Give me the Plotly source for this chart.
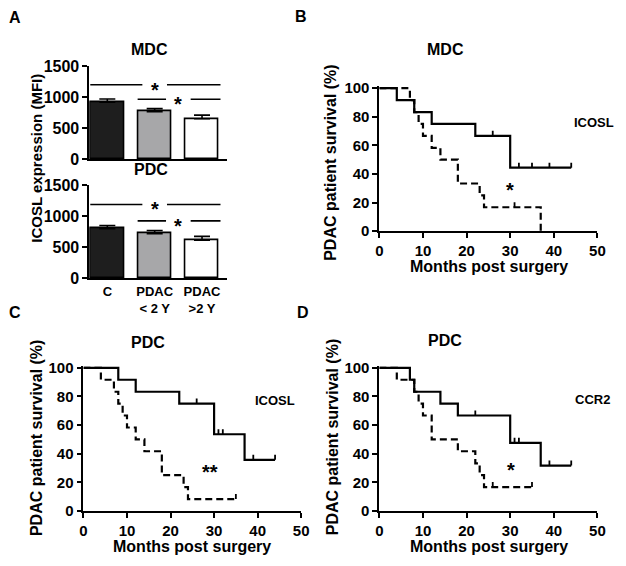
import plotly.graph_objects as go

W, H = 626, 566
FONT = "Liberation Sans, Arial, sans-serif"

# ---------------- Panel A data ----------------
groups = ["C", "PDAC<br>< 2 Y", "PDAC<br>>2 Y"]
mdc_mean = [920, 765, 650]
mdc_sem = [50, 50, 60]
pdc_mean = [800, 720, 615]
pdc_sem = [50, 50, 60]
sig_pairs = [(0, 2), (1, 2)]
sig_mdc = [1200, 965]
sig_pdc = [1190, 925]
sig_text = ["*", "*"]
bar_ticks = [0, 500, 1000, 1500]

# ---------------- Kaplan-Meier data ----------------
# Panel B (MDC, ICOSL)
b_hi_t = [0, 4, 8, 12, 22, 30, 44]
b_hi_s = [100, 91.7, 83.3, 75, 66.7, 44.4, 44.4]
b_hi_ct = [26, 32, 35, 39, 44]
b_hi_cs = [66.7, 44.4, 44.4, 44.4, 44.4]
b_lo_t = [0, 7, 8, 9, 10, 12, 14, 18, 23, 24, 37]
b_lo_s = [100, 91.7, 83.3, 75, 66.7, 58.3, 50, 33.3, 25, 16.7, 0]
b_lo_ct = [31]
b_lo_cs = [16.7]

# Panel C (PDC, ICOSL)
c_hi_t = [0, 8, 12, 22, 30, 37, 44]
c_hi_s = [100, 91.7, 83.3, 75, 53.6, 35.7, 35.7]
c_hi_ct = [26, 31, 32, 39, 44]
c_hi_cs = [75, 53.6, 53.6, 35.7, 35.7]
c_lo_t = [0, 4, 7, 8, 9, 10, 12, 14, 18, 23, 24, 35]
c_lo_s = [100, 91.7, 83.3, 75, 66.7, 58.3, 50, 41.7, 25, 16.7, 8.3, 8.3]
c_lo_ct = [35]
c_lo_cs = [8.3]

# Panel D (PDC, CCR2)
d_hi_t = [0, 7, 8, 14, 18, 30, 37, 44]
d_hi_s = [100, 91.7, 83.3, 75, 66.7, 47.6, 31.7, 31.7]
d_hi_ct = [22, 31, 32, 39, 44]
d_hi_cs = [66.7, 47.6, 47.6, 31.7, 31.7]
d_lo_t = [0, 4, 8, 9, 10, 12, 18, 22, 23, 24, 35]
d_lo_s = [100, 91.7, 83.3, 75, 66.7, 50, 41.7, 33.3, 25, 16.7, 16.7]
d_lo_ct = [26, 35]
d_lo_cs = [16.7, 16.7]

km_panels = [
    dict(ax="3", title="MDC", marker="ICOSL", star="*",
         hi=(b_hi_t, b_hi_s, b_hi_ct, b_hi_cs), lo=(b_lo_t, b_lo_s, b_lo_ct, b_lo_cs),
         label_pos=(49.3, 76), star_pos=(30, 32)),
    dict(ax="4", title="PDC", marker="ICOSL", star="**",
         hi=(c_hi_t, c_hi_s, c_hi_ct, c_hi_cs), lo=(c_lo_t, c_lo_s, c_lo_ct, c_lo_cs),
         label_pos=(43.9, 77.5), star_pos=(29, 31)),
    dict(ax="5", title="PDC", marker="CCR2", star="*",
         hi=(d_hi_t, d_hi_s, d_hi_ct, d_hi_cs), lo=(d_lo_t, d_lo_s, d_lo_ct, d_lo_cs),
         label_pos=(48.9, 78), star_pos=(30.2, 32)),
]
km_xticks = [0, 10, 20, 30, 40, 50]
km_yticks = [0, 20, 40, 60, 80, 100]

# ---------------- styling ----------------
bar_colors = ["#1e1e1e", "#a7a7a9", "#ffffff"]
LW = 1.8


def dx(x0, x1):
    return [x0 / W, x1 / W]


def dy(top, bot):
    return [1 - bot / H, 1 - top / H]


def f(size, weight="bold"):
    return dict(family=FONT, size=size, color="black", weight=weight)


fig = go.Figure()

axis_base = dict(showline=True, linecolor="black", linewidth=LW, ticks="outside",
                 ticklen=5, tickwidth=LW, tickcolor="black", showgrid=False,
                 zeroline=False, tickfont=f(15), fixedrange=True)

annotations = []

# ---------------- Panel A bars ----------------
bar_sets = [("", "", mdc_mean, mdc_sem, sig_mdc, "MDC"), ("2", "2", pdc_mean, pdc_sem, sig_pdc, "PDC")]
for xa, ya, means, sems, sig, ttl in bar_sets:
    fig.add_trace(go.Bar(
        x=list(range(len(groups))), y=means, width=0.7,
        marker=dict(color=bar_colors, line=dict(color="black", width=1.6)),
        error_y=dict(type="data", symmetric=False, array=sems, arrayminus=[0] * len(sems),
                     color="black", thickness=1.6, width=8),
        xaxis="x" + xa, yaxis="y" + ya, showlegend=False))
    for (a, b), lvl, st in zip(sig_pairs, sig, sig_text):
        mid = (a + b) / 2
        start = a - 0.36
        end = b + 0.39
        gap = 0.26
        fig.add_trace(go.Scatter(
            x=[start, mid - gap, None, mid + gap, end], y=[lvl, lvl, None, lvl, lvl],
            mode="lines", line=dict(color="black", width=1.6),
            xaxis="x" + xa, yaxis="y" + ya, showlegend=False, hoverinfo="skip"))
        annotations.append(dict(x=mid, y=lvl, xref="x" + xa, yref="y" + ya, text=st,
                                showarrow=False, font=f(20), yshift=-5))

bar_x = dict(axis_base, range=[-0.38, 2.52], ticks="", tickvals=list(range(len(groups))))
bar_y = dict(axis_base, range=[0, 1500], tickvals=bar_ticks, tickfont=f(16))
fig.update_layout(
    xaxis=dict(bar_x, domain=dx(87, 227), showticklabels=False, anchor="y"),
    yaxis=dict(bar_y, domain=dy(60, 155.7), anchor="x"),
    xaxis2=dict(bar_x, domain=dx(87, 227), ticktext=groups, tickfont=f(13), anchor="y2"),
    yaxis2=dict(bar_y, domain=dy(182.7, 278.7), anchor="x2"),
)

# ---------------- KM panels ----------------
km_domains = {
    "3": (dx(382.7, 605), (82.7, 230)),
    "4": (dx(81, 303), (371, 518.5)),
    "5": (dx(382.7, 605), (371, 518.5)),
}
YTOP = 101.5
for p in km_panels:
    ax = p["ax"]
    xd, (y100, y0) = km_domains[ax]
    top_px = y0 - (YTOP / 100) * (y0 - y100)
    fig.update_layout(**{
        "xaxis" + ax: dict(axis_base, domain=xd, range=[0, 50], tickvals=km_xticks, anchor="y" + ax),
        "yaxis" + ax: dict(axis_base, domain=dy(top_px, y0), range=[0, YTOP], tickvals=km_yticks,
                           anchor="x" + ax),
    })
    for key, dash in (("lo", "7px,4px"), ("hi", "solid")):
        t, s, ct, cs = p[key]
        fig.add_trace(go.Scatter(x=t, y=s, mode="lines", line=dict(color="black", width=2.2, shape="hv", dash=dash),
                                 xaxis="x" + ax, yaxis="y" + ax, showlegend=False, hoverinfo="skip"))
        cx, cy = [], []
        for tt, ss in zip(ct, cs):
            cx += [tt, tt, None]
            cy += [ss, ss + 3.5, None]
        fig.add_trace(go.Scatter(x=cx, y=cy, mode="lines", line=dict(color="black", width=1.8),
                                 xaxis="x" + ax, yaxis="y" + ax, showlegend=False, hoverinfo="skip"))
    lx, ly = p["label_pos"]
    annotations.append(dict(x=lx, y=ly, xref="x" + ax, yref="y" + ax, text=p["marker"],
                            showarrow=False, font=f(13)))
    sx, sy = p["star_pos"]
    annotations.append(dict(x=sx, y=sy, xref="x" + ax, yref="y" + ax, text=p["star"],
                            showarrow=False, font=f(20), yshift=-5))


def pa(x, y, text, size=16, angle=0, xanchor="center"):
    annotations.append(dict(x=x / W, y=1 - y / H, xref="paper", yref="paper", text=text,
                            showarrow=False, font=f(size), textangle=angle,
                            xanchor=xanchor, yanchor="middle"))


# panel letters
pa(3, 10, "A", xanchor="left")
pa(295, 9, "B", xanchor="left")
pa(3, 314, "C", xanchor="left")
pa(297, 314, "D", xanchor="left")
# titles
pa(148, 43, "MDC")
pa(150, 167, "PDC")
pa(450, 43, "MDC")
pa(147, 345, "PDC")
pa(450, 343, "PDC")
# axis titles
pa(33, 155, "ICOSL expression (MFI)", size=15, angle=-90)
pa(333, 160, "PDAC patient survival (%)", size=16, angle=-90)
pa(33, 443, "PDAC patient survival (%)", size=16, angle=-90)
pa(335, 443, "PDAC patient survival (%)", size=16, angle=-90)
pa(494, 267, "Months post surgery")
pa(192, 555, "Months post surgery")
pa(494, 555, "Months post surgery")

fig.update_layout(
    width=W, height=H, margin=dict(l=0, r=0, t=0, b=0),
    paper_bgcolor="white", plot_bgcolor="white",
    annotations=annotations, showlegend=False, bargap=0,
)

fig.write_html("out.html", config={"displayModeBar": False},
               post_script="document.body.style.margin='0';")
